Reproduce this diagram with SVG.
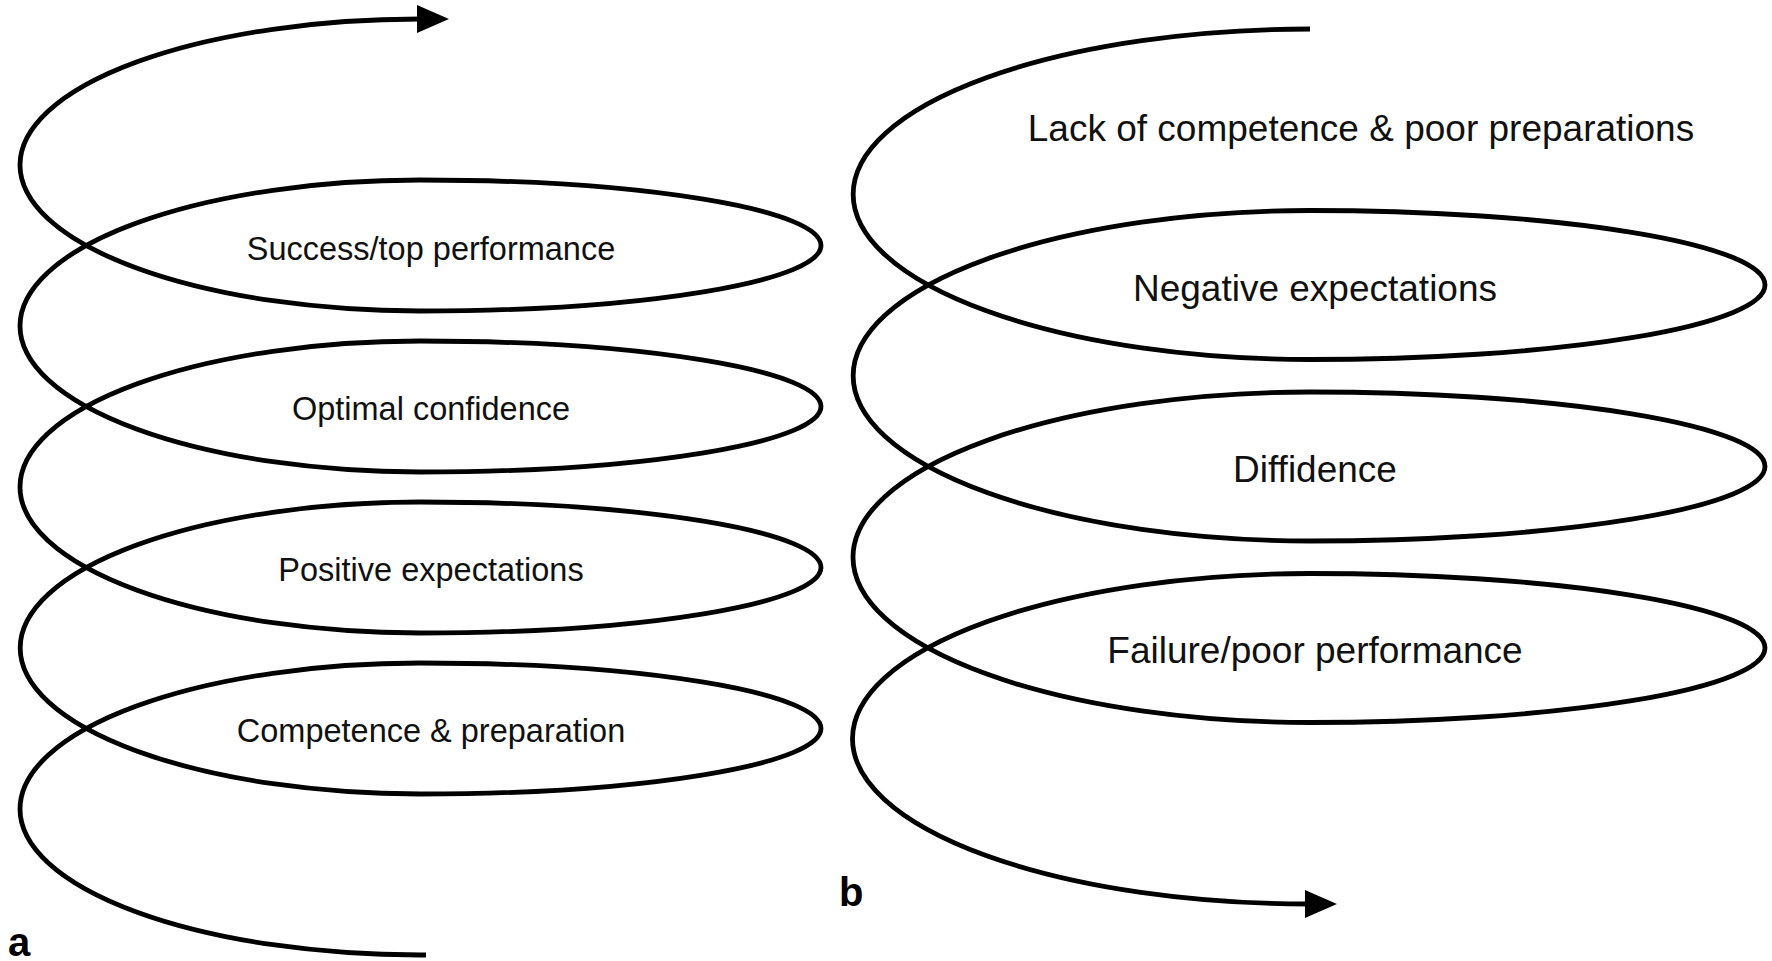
<svg xmlns="http://www.w3.org/2000/svg" width="1772" height="961" viewBox="0 0 1772 961">
  <style>
    .spiral { fill: none; stroke: #000; stroke-width: 4.8; stroke-linecap: butt; stroke-linejoin: round; }
    .lblA { font-family: "Liberation Sans", Arial, Helvetica, sans-serif; font-size: 32.5px; fill: #111; text-anchor: middle; }
    .lblB { font-family: "Liberation Sans", Arial, Helvetica, sans-serif; font-size: 37px; fill: #111; text-anchor: middle; }
    .panel { font-family: "Liberation Sans", Arial, Helvetica, sans-serif; font-size: 40px; font-weight: bold; fill: #000; }
  </style>
  <defs>
    <marker id="arrow" markerUnits="userSpaceOnUse" markerWidth="34" markerHeight="30" refX="5" refY="14" orient="auto" overflow="visible">
      <path d="M0,0 L32,14 L0,28 Z" fill="#000"/>
    </marker>
  </defs>
  <rect x="0" y="0" width="1772" height="961" fill="#fff"/>

  <g id="connectors">
    <path id="spiral-a" class="spiral" marker-end="url(#arrow)"
      d="M 426 955 L 420 955
         A 400 146 0 0 1 420 663
         A 401 65.5 0 0 1 420 794
         A 400 146 0 0 1 420 502
         A 401 65.5 0 0 1 420 633
         A 400 146 0 0 1 420 341
         A 401 65.5 0 0 1 420 472
         A 400 146 0 0 1 420 180
         A 401 65.5 0 0 1 420 311
         A 400 146 0 0 1 420 19
         L 422 19"/>
    <path id="spiral-b" class="spiral" marker-end="url(#arrow)"
      d="M 1310 29
         A 457 165.25 0 0 0 1310 359.5
         A 455 74.5 0 0 0 1310 210.5
         A 457 165.25 0 0 0 1310 541
         A 455 74.5 0 0 0 1310 392
         A 457 165.25 0 0 0 1310 722.5
         A 455 74.5 0 0 0 1310 573.5
         A 457 165.25 0 0 0 1309 904
         L 1310 904"/>
  </g>

  <g id="a-success"><text class="lblA" x="431" y="260">Success/top performance</text></g>
  <g id="a-confidence"><text class="lblA" x="431" y="420">Optimal confidence</text></g>
  <g id="a-expectations"><text class="lblA" x="431" y="581">Positive expectations</text></g>
  <g id="a-competence"><text class="lblA" x="431" y="742">Competence &amp; preparation</text></g>

  <g id="b-lack"><text class="lblB" x="1361" y="141">Lack of competence &amp; poor preparations</text></g>
  <g id="b-negative"><text class="lblB" x="1315" y="300.5">Negative expectations</text></g>
  <g id="b-diffidence"><text class="lblB" x="1315" y="481.5">Diffidence</text></g>
  <g id="b-failure"><text class="lblB" x="1315" y="662.5">Failure/poor performance</text></g>

  <g id="label-a"><text class="panel" x="8" y="956">a</text></g>
  <g id="label-b"><text class="panel" x="839" y="906">b</text></g>
</svg>
